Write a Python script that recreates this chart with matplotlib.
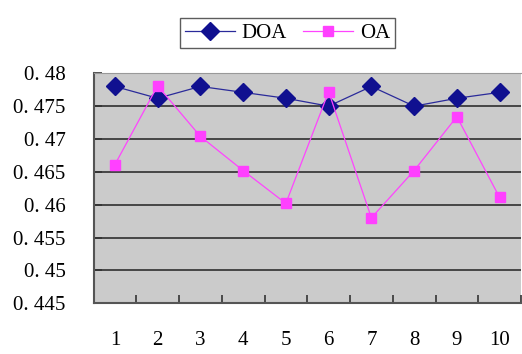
import matplotlib
matplotlib.use("Agg")
import matplotlib.pyplot as plt
from matplotlib.ticker import FixedLocator

categories = ["1", "2", "3", "4", "5", "6", "7", "8", "9", "10"]
doa = [0.4780, 0.4762, 0.4780, 0.4771, 0.4762, 0.4750, 0.4780, 0.4750, 0.4762, 0.4771]
oa = [0.4661, 0.4781, 0.4704, 0.4652, 0.4602, 0.4772, 0.4580, 0.4652, 0.4734, 0.4611]
yticks = [0.445, 0.45, 0.455, 0.46, 0.465, 0.47, 0.475, 0.48]
ytick_labels = ["0. 445", "0. 45", "0. 455", "0. 46", "0. 465", "0. 47", "0. 475", "0. 48"]

plt.rcParams['font.family'] = ['Liberation Serif', 'DejaVu Serif']

fig = plt.figure(figsize=(5.22, 3.54), dpi=100)
ax = fig.add_axes([93.5/522, 1-303.3/354, (521-93.5)/522, (303.3-73.3)/354])
ax.set_facecolor('#cbcbcb')

x = list(range(1, len(categories)+1))
ax.plot(x, doa, color='#2a2a9a', lw=0.9, marker='D', ms=9, mfc='#101090', mec='#101090', label='DOA', zorder=3)
ax.plot(x, oa, color='#ff44ff', lw=0.9, marker='s', ms=7.8, mfc='#ff40ff', mec='#ff40ff', label='OA', zorder=3)

ax.set_xlim(0.5, len(categories)+0.5)
ax.set_ylim(0.445, 0.48)
ax.set_yticks(yticks)
ax.set_yticklabels(ytick_labels, fontsize=15)
ax.set_xticks(x)
ax.set_xticklabels(categories, fontsize=15)
ax.xaxis.set_minor_locator(FixedLocator([i + 0.5 for i in range(0, len(categories)+1)]))
ax.tick_params(axis='x', which='major', length=0, pad=20)
ax.tick_params(axis='x', which='minor', length=6, direction='in', color='#333333', width=1.2)
ax.tick_params(axis='y', length=6, direction='in', color='#333333', width=1.2, pad=20)

for yv in yticks[1:]:
    ax.axhline(yv, color='#222222', lw=1.1, zorder=1)

for side in ['left', 'bottom']:
    ax.spines[side].set_color('#555555')
    ax.spines[side].set_linewidth(1.5)
ax.spines['top'].set_color('#999999')
ax.spines['right'].set_visible(False)

leg = fig.legend(loc='upper center', bbox_to_anchor=(287.5/522, 1-8/354), ncol=2, fontsize=15,
                 frameon=True, fancybox=False, edgecolor='#333333', handlelength=2.4,
                 borderpad=0.25, columnspacing=0.8, handletextpad=0.3)
leg.get_frame().set_linewidth(1.0)

fig.savefig('out.png', dpi=100)
